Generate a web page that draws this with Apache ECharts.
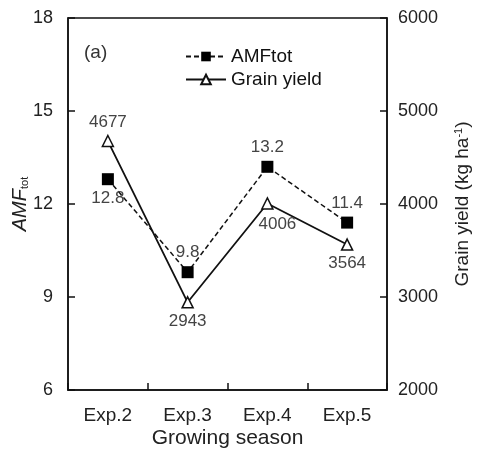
<!DOCTYPE html>
<html><head><meta charset="utf-8">
<script src="https://cdn.jsdelivr.net/npm/echarts@6/dist/echarts.min.js"></script>
<style>html,body{margin:0;padding:0;background:#fff}#c{width:480px;height:450px}</style>
</head><body><div id="c"></div>
<script>
var categories = ['Exp.2', 'Exp.3', 'Exp.4', 'Exp.5'];
var amfTot = [12.8, 9.8, 13.2, 11.4];
var grainYield = [4677, 2943, 4006, 3564];
var amfPos = ['bottom', 'top', 'top', 'top'];
var yieldPos = ['top', 'bottom', 'bottom', 'bottom'];

var font = 'Liberation Sans, Arial, sans-serif';
var chart = echarts.init(document.getElementById('c'));
chart.setOption({
  animation: false,
  textStyle: { fontFamily: font },
  grid: { left: 68, right: 93, top: 18, bottom: 60, outerBoundsMode: 'none', containLabel: false,
    show: true, borderColor: '#111', borderWidth: 1.5, backgroundColor: 'transparent' },
  graphic: [{ type: 'text', left: 84, top: 43, style: { text: '(a)', font: '19px ' + font, fill: '#333' } }],
  legend: {
    left: 180, top: 42, orient: 'vertical', itemGap: 4, itemWidth: 40, itemHeight: 12,
    textStyle: { fontSize: 19, color: '#111', fontFamily: font },
    data: ['AMFtot', 'Grain yield']
  },
  xAxis: {
    type: 'category', data: categories, boundaryGap: true,
    axisLine: { lineStyle: { color: '#111', width: 1.5 } },
    axisTick: { show: true, interval: 0, inside: false, length: -7, lineStyle: { color: '#111', width: 1.5 } },
    axisLabel: { fontSize: 19, color: '#222', margin: 16, fontFamily: font },
    name: 'Growing season', nameLocation: 'middle', nameGap: 38, nameMoveOverlap: false,
    nameTextStyle: { fontSize: 21, color: '#222', fontFamily: font }
  },
  yAxis: [{
    type: 'value', min: 6, max: 18, interval: 3, position: 'left',
    splitLine: { show: false },
    axisLine: { show: true, lineStyle: { color: '#111', width: 1.5 } },
    axisTick: { show: true, inside: false, length: -7, lineStyle: { color: '#111', width: 1.5 } },
    axisLabel: { fontSize: 18, color: '#222', margin: 15, fontFamily: font },
    name: '{i|AMF}{s|tot}', nameLocation: 'middle', nameRotate: 90, nameGap: 38, nameMoveOverlap: false,
    nameTextStyle: {
      rich: {
        i: { fontSize: 20, fontStyle: 'italic', color: '#222', fontFamily: font },
        s: { fontSize: 11, color: '#222', fontFamily: font, padding: [9, 0, 0, 0] }
      }
    }
  }, {
    type: 'value', min: 2000, max: 6000, interval: 1000, position: 'right',
    splitLine: { show: false },
    axisLine: { show: true, lineStyle: { color: '#111', width: 1.5 } },
    axisTick: { show: true, inside: false, length: -7, lineStyle: { color: '#111', width: 1.5 } },
    axisLabel: { fontSize: 18, color: '#222', margin: 11, fontFamily: font, formatter: function (v) { return String(v); } },
    name: '{a|Grain yield (kg ha}{b|-1}{a|)}', nameLocation: 'middle', nameRotate: 90, nameGap: 66, nameMoveOverlap: false,
    nameTextStyle: {
      rich: {
        a: { fontSize: 19, color: '#222', fontFamily: font },
        b: { fontSize: 11, color: '#222', fontFamily: font, padding: [0, 0, 9, 0] }
      }
    }
  }],
  series: [{
    name: 'AMFtot', type: 'line', yAxisIndex: 0,
    data: amfTot.map(function (v, i) { return { value: v, label: { position: amfPos[i] } }; }),
    symbol: 'rect', symbolSize: 12,
    lineStyle: { color: '#111', width: 1.5, type: [5, 3] },
    itemStyle: { color: '#000' },
    label: { show: true, fontSize: 17, color: '#444', distance: 5, fontFamily: font }
  }, {
    name: 'Grain yield', type: 'line', yAxisIndex: 1,
    data: grainYield.map(function (v, i) {
      return { value: v, label: { position: yieldPos[i], offset: i === 2 ? [10, 2] : [0, 0] } };
    }),
    symbol: 'triangle', symbolSize: 11,
    lineStyle: { color: '#111', width: 1.8 },
    itemStyle: { color: '#fff', borderColor: '#111', borderWidth: 1.5 },
    label: { show: true, fontSize: 17, color: '#444', distance: 4, fontFamily: font }
  }]
});
</script></body></html>
